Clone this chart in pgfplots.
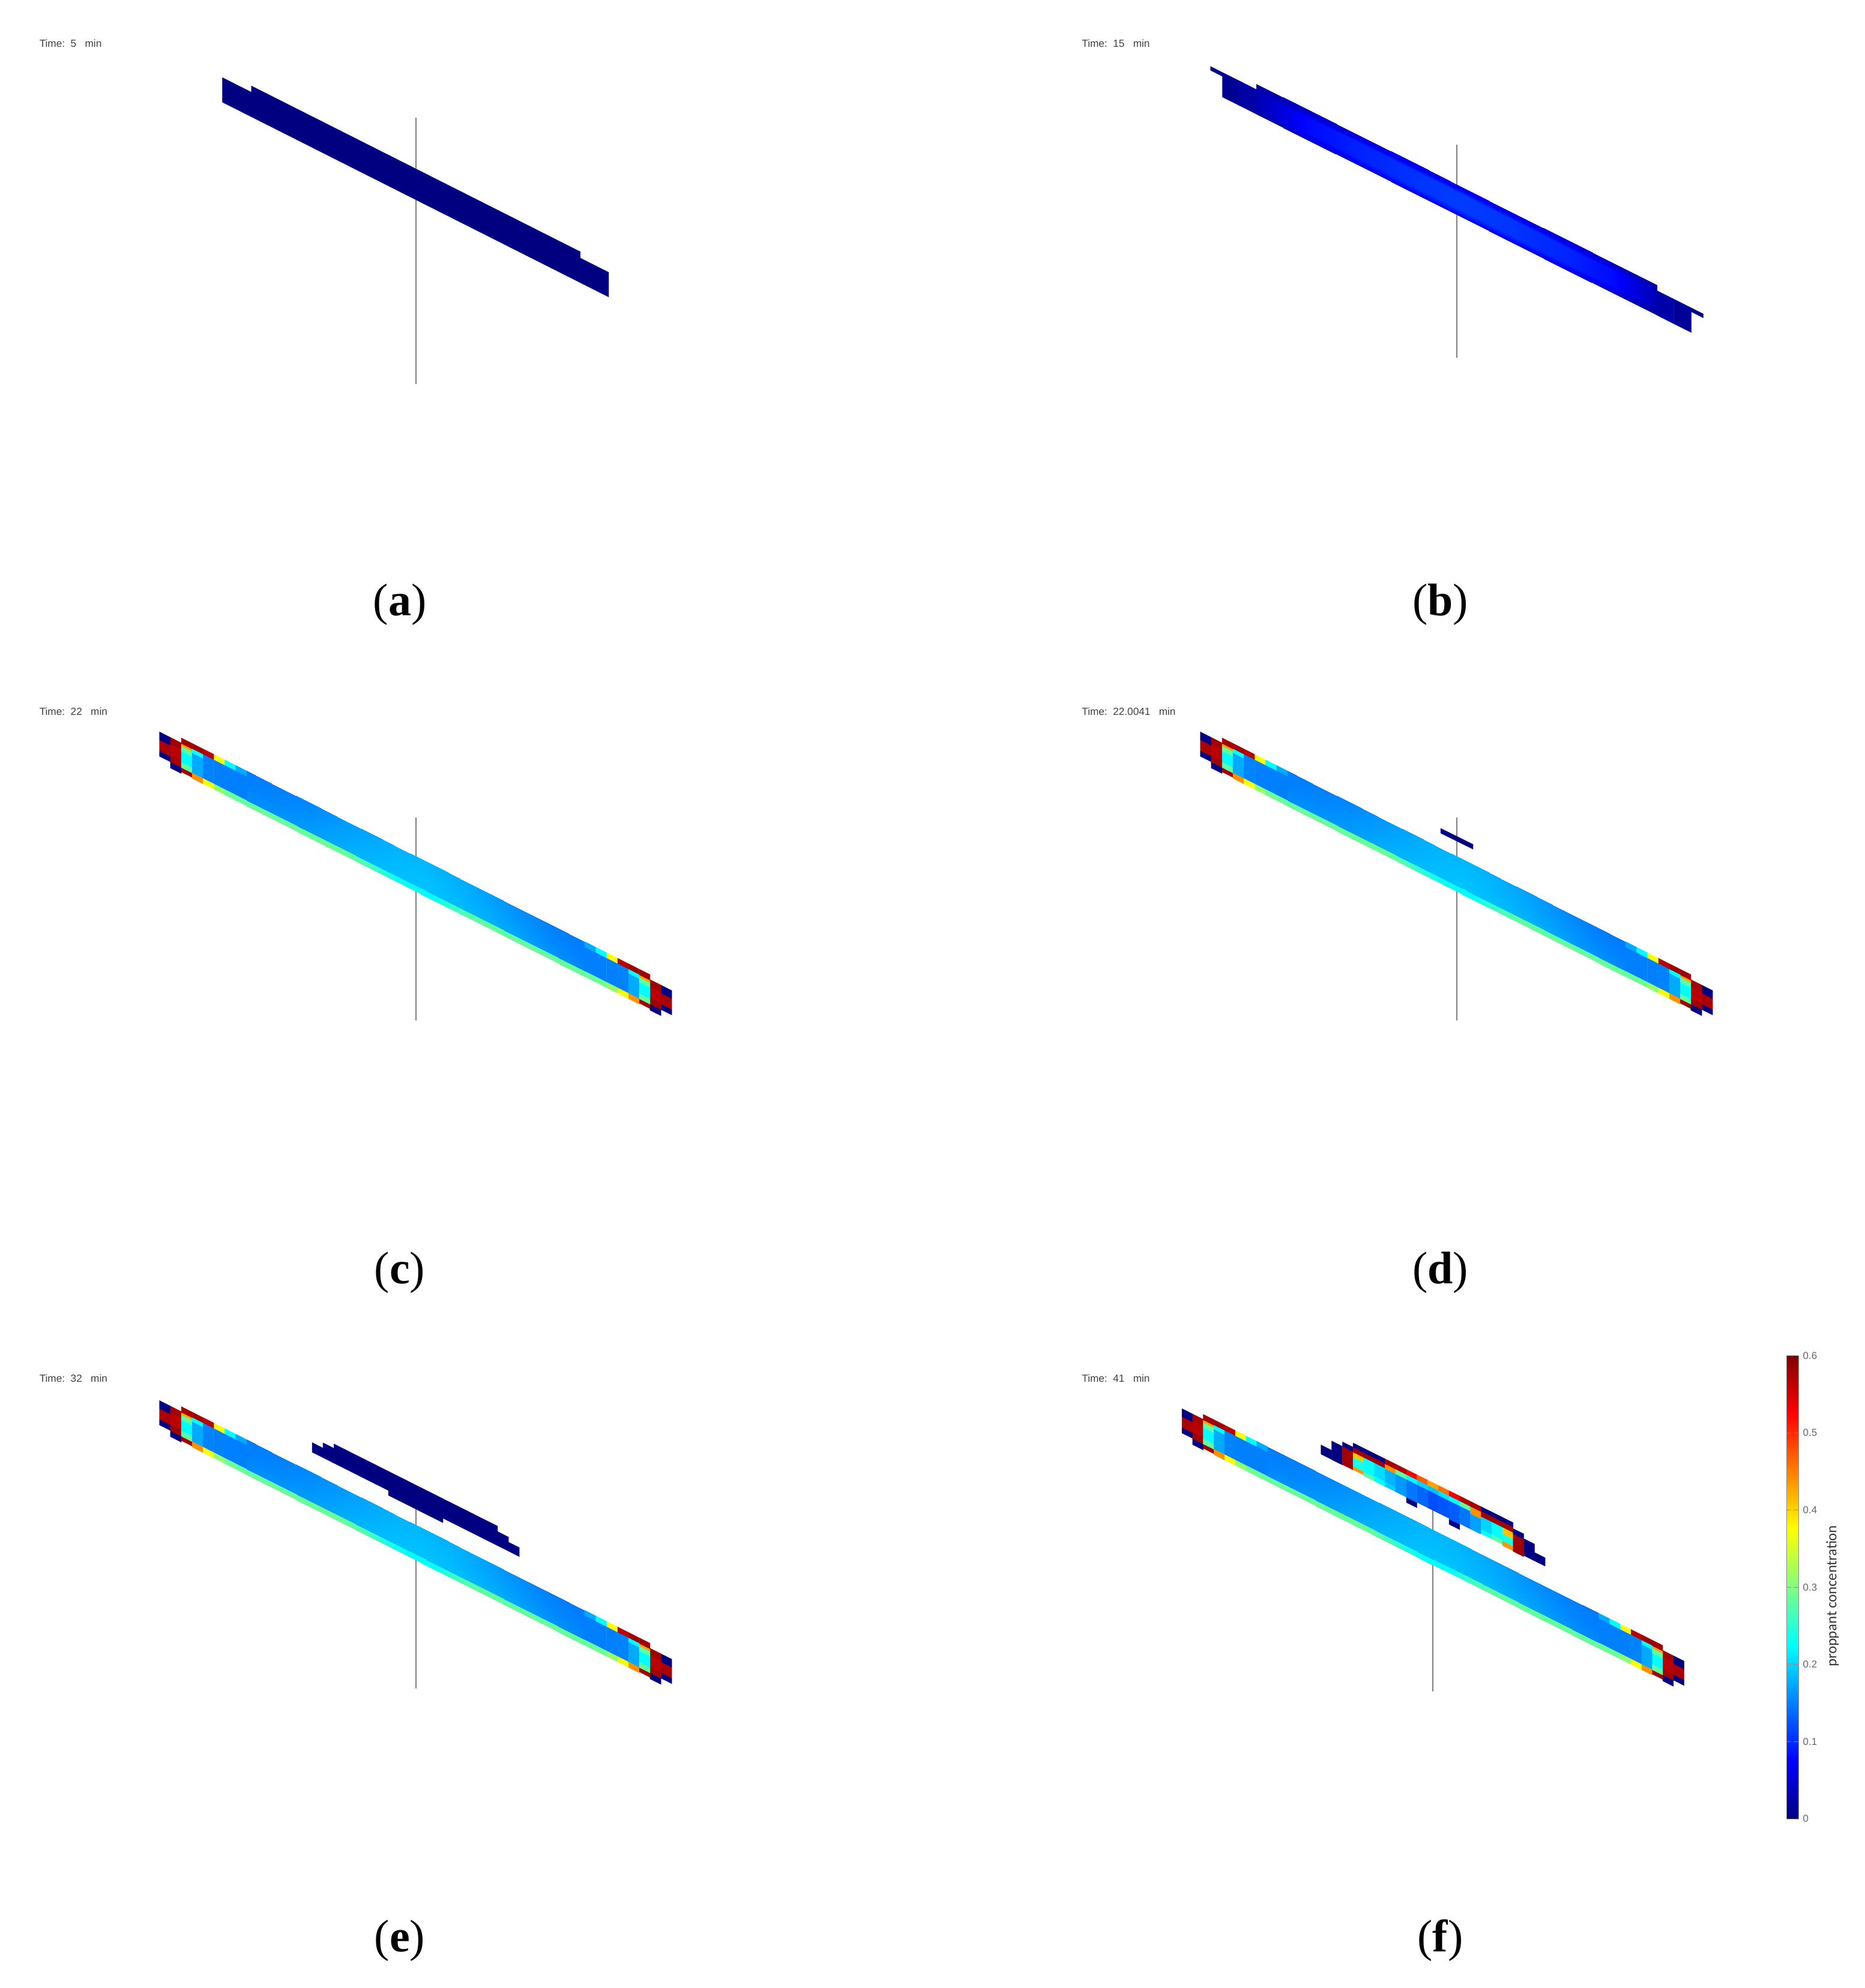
\documentclass[border=0pt]{standalone}
\usepackage{fontspec}
\setmainfont{Liberation Sans}
\newfontfamily\capfont{Liberation Serif}
\newfontfamily\barfont{Carlito}
\usepackage{pgfplots}
\pgfplotsset{compat=1.18}
\usepackage{pgfplotstable}

% the fracture is a sheared grid: column k, offset v across the layer, c = proppant concentration
\pgfplotstableread{
ka kb va vb c
0 1 0 14 0
0 1 14 32 .575
0 1 32 40.7 0
1 2 0 12 .58
1 2 12 30 .565
1 2 30 41.5 .58
1 2 41.5 51 0
2 3 -8.3 1.7 .58
2 3 1.7 5.7 .43
2 3 5.7 14 .28
2 3 14 32.4 .225
2 3 32.4 41.7 .28
2 3 41.7 48.4 .58
3 4 -8.3 1 .58
3 4 1 8 .225
3 4 8 41 .175
3 4 41 50 .44
4 5 -8.3 1 .565
4 5 1 41 .152
4 5 41 50 .37
5 6 -8.3 1 .375
5 6 1 41 .15
5 6 41 50 .31
6 7 -8.3 1 .225
6 7 1 41 .15
6 7 41 50 .29
7 8 -8.3 1 .175
7 8 1 41 .15
7 8 41 50 .285
}\tiptable

\pgfplotstableread{
k v c
8 -8.3 .148
8 20 .152
8 41 .158
11 -8.3 .15
11 20 .155
11 41 .162
14 -8.3 .155
14 20 .162
14 41 .168
17 -8.3 .165
17 20 .172
17 41 .178
20 -8.3 .175
20 20 .18
20 41 .185
22 -8.3 .18
22 20 .185
22 41 .188
24 -8.3 .182
24 20 .187
24 41 .19
26 -8.3 .18
26 20 .185
26 41 .188
28 -8.3 .176
28 20 .18
28 41 .185
30 -8.3 .17
30 20 .175
30 41 .18
33 -8.3 .158
33 20 .165
33 41 .172
36 -8.3 .15
36 20 .155
36 41 .162
39 -8.3 .146
39 20 .15
39 41 .155
}\maintable

\pgfplotstableread{
k v c
8 41 .285
8 50 .285
17 41 .285
17 50 .285
19 41 .27
19 50 .27
21 41 .24
21 50 .24
23 41 .225
23 50 .225
25 41 .225
25 50 .225
27 41 .26
27 50 .26
29 41 .28
29 50 .28
39 41 .285
39 50 .285
}\stripetable

\pgfplotstableread{
ka kb va vb c
0 2.66 0 41 0
2.66 32.82 -10.5 41 0
32.82 35.43 0 41 0
}\panelacells

\pgfplotstableread{
ka kb va vb c
0 1.1 0 6.5 .005
1.1 2.6 0 41 .012
2.6 4.22 0 41 .022
40.97 42.5 0 41 .025
42.5 44.1 0 41 .015
44.1 45.2 0 6.5 .005
}\panelbcells

\pgfplotstableread{
k v c
4.22 -9.5 .02
4.22 -3 .025
4.22 3 .03
4.22 30 .03
4.22 41 .02
9 -9.5 .03
9 -3 .045
9 3 .08
9 30 .08
9 41 .045
14 -9.5 .045
14 -3 .065
14 3 .095
14 30 .095
14 41 .06
19 -9.5 .055
19 -3 .07
19 3 .105
19 30 .105
19 41 .065
23 -9.5 .06
23 -3 .075
23 3 .11
23 30 .11
23 41 .07
28 -9.5 .055
28 -3 .07
28 3 .105
28 30 .105
28 41 .065
33 -9.5 .045
33 -3 .065
33 3 .095
33 30 .095
33 41 .06
37 -9.5 .035
37 -3 .05
37 3 .08
37 30 .08
37 41 .045
40.97 -9.5 .02
40.97 -3 .025
40.97 3 .03
40.97 30 .03
40.97 41 .02
}\panelbmesh

\pgfplotstableread{
ka kb va vb c
0 3 0 8 0
}\paneldcells

\pgfplotstableread{
ka kb va vb c
0 1 0 16 0
1 2 -8.7 16 0
2 7 -16 16 0
7 12 -16 24 0
12 17 -16 16.5 0
17 18 -7 16.5 0
18 19 1.5 16.5 0
}\panelecells

\pgfplotstableread{
ka kb va vb c
0 1 0 15.3 0
1 2 -15.5 15.5 0
2 3 -23 -15 0
2 3 -15 15 .58
3 4 -30 -22 0
3 4 -22 -14 .58
3 4 -14 -6 .41
3 4 -6 9.5 .24
3 4 9.5 14.5 .44
4 5 -30 -22 0
4 5 -22 -14 .58
4 5 -14 10 .225
4 5 10 16 .28
5 6 -30 -22 0
5 6 -22 -14 .58
5 6 -14 8 .205
5 6 8 16 .225
6 7 -30 -21 .58
6 7 -21 -13 .44
6 7 -13 8 .18
6 7 8 16 .195
7 8 -30 -21 .57
7 8 -21 -13 .28
7 8 -13 16 .165
8 9 -30 -21 .53
8 9 -21 -13 .225
8 9 -13 17 .145
8 9 17 25 0
9 10 -30 -21 .47
9 10 -21 -13 .2
9 10 -13 16 .135
10 11 -30 -21 .43
10 11 -21 -13 .19
10 11 -13 16 .12
11 12 -30 -21 .46
11 12 -21 -13 .21
11 12 -13 16 .125
12 13 -30 -21 .53
12 13 -21 -13 .225
12 13 -13 18 .13
12 13 18 26 0
13 14 -30 -21 .57
13 14 -21 -13 .28
13 14 -13 16 .145
14 15 -30 -21 .58
14 15 -21 -9 .44
14 15 -9 16 .17
15 16 -30 -22 0
15 16 -22 -13 .58
15 16 -13 8 .2
15 16 8 15 .225
16 17 -30 -22 0
16 17 -22 -13 .58
16 17 -13 8 .225
16 17 8 15 .28
17 18 -30 -22 0
17 18 -22 -13 .58
17 18 -13 -2 .41
17 18 -2 10 .24
17 18 10 17 .44
18 19 -20 -10.6 0
18 19 -10.6 18 .58
19 20 -12 16 0
20 21 2 16 0
}\panelfcells

% #1 table, #2 ox, #3 oy, #4 column width, #5 shear per column, #6 mirror offset, #7 mirror sign
\newcommand{\plotcells}[7]{%
  \def\coordlist{}%
  \pgfplotstablegetrowsof{#1}%
  \pgfmathtruncatemacro\lastrow{\pgfplotsretval-1}%
  \pgfplotsforeachungrouped \r in {0,...,\lastrow}{%
    \pgfplotstablegetelem{\r}{ka}\of{#1}\let\ka=\pgfplotsretval
    \pgfplotstablegetelem{\r}{kb}\of{#1}\let\kb=\pgfplotsretval
    \pgfplotstablegetelem{\r}{va}\of{#1}\let\va=\pgfplotsretval
    \pgfplotstablegetelem{\r}{vb}\of{#1}\let\vb=\pgfplotsretval
    \pgfplotstablegetelem{\r}{c}\of{#1}\let\cc=\pgfplotsretval
    \pgfmathsetmacro\ma{#6+#7*\ka}%
    \pgfmathsetmacro\mb{#6+#7*\kb}%
    \pgfmathsetmacro\xa{#2+#4*\ma}%
    \pgfmathsetmacro\xb{#2+#4*\mb}%
    \pgfmathsetmacro\yaa{#3+#5*\ma+\va}%
    \pgfmathsetmacro\yab{#3+#5*\ma+\vb}%
    \pgfmathsetmacro\yba{#3+#5*\mb+\va}%
    \pgfmathsetmacro\ybb{#3+#5*\mb+\vb}%
    \xdef\coordlist{\coordlist (\xa,\yaa) [\cc] (\xb,\yba) [\cc] (\xb,\ybb) [\cc] (\xa,\yab) [\cc] }%
  }%
  \edef\temp{\noexpand\addplot[patch,patch type=rectangle,shader=flat mean,point meta=explicit,line width=0.1pt] coordinates {\coordlist};}%
  \temp
}
% #1 table, #2 ox, #3 oy, #4 column width, #5 shear per column, #6 points across the layer
\newcommand{\plotmesh}[6]{%
  \addplot[surf,shader=interp,mesh/ordering=y varies,mesh/rows=#6,point meta=explicit]
    table[x expr={#2+#4*\thisrow{k}},y expr={#3+#5*\thisrow{k}+\thisrow{v}},meta=c] {#1};
}
% the full frac of panels c to f
\newcommand{\plotfrac}[4]{%
  \plotmesh{\maintable}{#1}{#2}{#3}{#4}{3}
  \plotmesh{\stripetable}{#1}{#2}{#3}{#4}{2}
  \plotcells{\tiptable}{#1}{#2}{#3}{#4}{0}{1}
  \plotcells{\tiptable}{#1}{#2}{#3}{#4}{47}{-1}
}
\newcommand{\well}[3]{\addplot[color=black!50,line width=0.5pt] coordinates {(#1,#2) (#1,#3)};}
\newcommand{\timelabel}[3]{\node[anchor=west,inner sep=0pt,text=black!75,font=\fontsize{4.3}{5}\selectfont] at (axis cs:#1,#2) {Time:\ \ #3\ \ \ min};}
\newcommand{\caplabel}[3]{\node[anchor=base,inner sep=0pt,font=\capfont\fontsize{19}{22}\selectfont] at (axis cs:#1,#2) {(\textbf{#3})};}

\begin{document}
\begin{tikzpicture}
\begin{axis}[
  width=776.75pt, height=828pt, scale only axis,
  xmin=0, xmax=3107, ymin=0, ymax=3312, y dir=reverse,
  hide axis, clip=false,
  colormap/jet, point meta min=0, point meta max=0.6,
  colorbar,
  colorbar style={
    at={(0.95806,0.31805)}, anchor=north west,
    width=4.83pt, height=192.85pt,
    ytick={0,0.1,0.2,0.3,0.4,0.5,0.6},
    scaled y ticks=false,
    tick align=inside,
    major tick length=1.9pt,
    yticklabel pos=right,
    tick style={color=black!45,line width=0.2pt},
    axis line style={color=black!45,line width=0.2pt},
    yticklabel style={font=\fontsize{4.2}{5}\selectfont,text=black!60,xshift=-1.6pt,
      /pgf/number format/assume math mode=true,
      /pgf/number format/fixed,/pgf/number format/precision=1},
  },
]
% panel a
\well{692.8}{196}{640}
\plotcells{\panelacells}{370.6}{129.3}{18.16}{9.157}{0}{1}
% panel b
\well{2427}{241}{596}
\plotmesh{\panelbmesh}{2016.7}{110.7}{18.16}{9.12}{5}
\plotcells{\panelbcells}{2016.7}{110.7}{18.16}{9.12}{0}{1}
% panel c
\well{692.8}{1362}{1700}
\plotfrac{265.7}{1219.3}{18.16}{9.17}
% panel d
\well{2427}{1362}{1700}
\plotfrac{1999.7}{1219.3}{18.16}{9.17}
\plotcells{\paneldcells}{2400}{1380}{18}{8.9}{0}{1}
% panel e
\well{692.8}{2475}{2813}
\plotfrac{265.7}{2333.3}{18.16}{9.17}
\plotcells{\panelecells}{520}{2403.3}{18.17}{9.13}{0}{1}
% panel f
\well{2387.3}{2480}{2818}
\plotfrac{1969}{2346.7}{17.8}{8.95}
\plotcells{\panelfcells}{2200.7}{2407.3}{17.78}{8.85}{0}{1}

\timelabel{65}{72}{5}
\timelabel{1801.6}{72}{15}
\timelabel{65}{1185}{22}
\timelabel{1801.6}{1185}{22.0041}
\timelabel{65}{2296}{32}
\timelabel{1801.6}{2296}{41}

\caplabel{666}{1025}{a}
\caplabel{2399.5}{1025}{b}
\caplabel{666}{2138}{c}
\caplabel{2399.5}{2138}{d}
\caplabel{666}{3251}{e}
\caplabel{2399.5}{3251}{f}

\node[rotate=90,inner sep=0pt,text=black!80,font=\barfont\fontsize{6.1}{7}\selectfont] at (axis cs:3053,2659) {proppant concentration};
\end{axis}
\useasboundingbox (0,0) rectangle (776.75pt,828pt);
\end{tikzpicture}
\end{document}
